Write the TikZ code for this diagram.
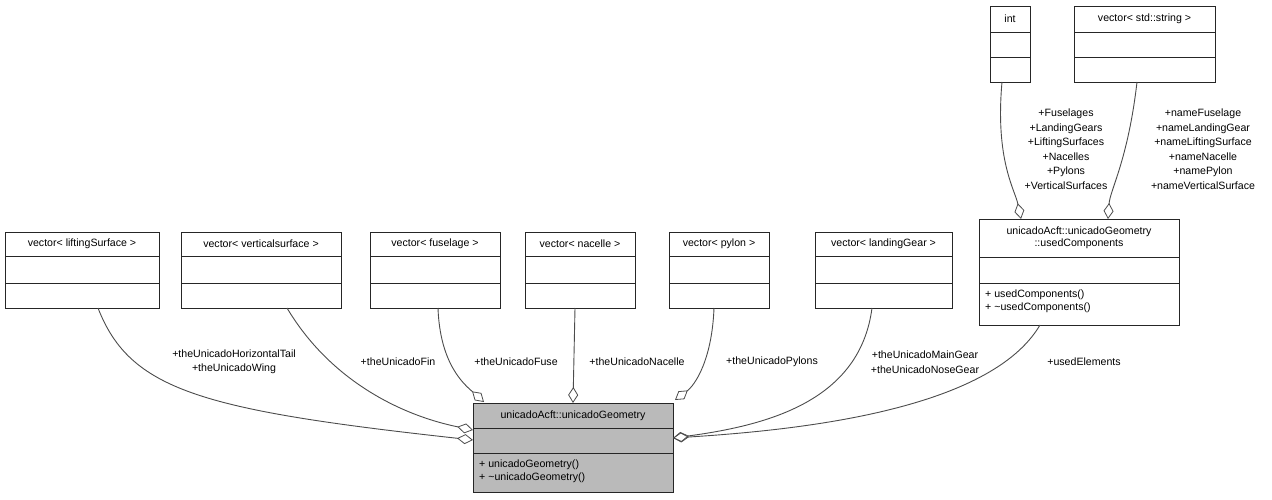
\documentclass[tikz,border=0pt]{standalone}
\usepackage{fontspec}
\setmainfont{Liberation Sans}
\usetikzlibrary{arrows.meta}
\begin{document}
\begin{tikzpicture}[x=1pt,y=-1pt,
  box/.style={draw=black!85,line width=0.9pt,fill=white,anchor=north west,inner sep=0pt},
  txt/.style={font=\fontsize{10.6}{12.5}\selectfont,inner sep=0pt},
  lbl/.style={font=\fontsize{10.6}{14.5}\selectfont,inner sep=0pt,align=center},
  edge/.style={draw=black!70,line width=0.9pt,-{Diamond[open,length=16pt,width=10pt,line width=0.8pt]}}]
\useasboundingbox (0,0) rectangle (1272,500);
\newcommand\umlbox[8]{%
  \node[box,minimum width=#4-#2,minimum height=#7-#3] (#1) at (#2,#3) {};
  \draw[draw=black!85,line width=0.9pt] (#2,#5) -- (#4,#5) (#2,#6) -- (#4,#6);
  \node[txt,align=center] (#1t) at ({(#2+#4)/2},{(#3+#5)/2}) {#8};}
\umlbox{ls}{5}{232}{159}{256}{283}{308}{vector< liftingSurface >}
\umlbox{vs}{181}{232}{341}{256}{283}{308}{vector< verticalsurface >}
\umlbox{fu}{370}{232}{500}{256}{283}{308}{vector< fuselage >}
\umlbox{na}{525}{232}{635}{256}{283}{308}{vector< nacelle >}
\umlbox{py}{669}{232}{769}{256}{283}{308}{vector< pylon >}
\umlbox{lg}{815}{232}{952}{256}{283}{308}{vector< landingGear >}
\umlbox{in}{990}{6}{1030}{32}{57}{82}{int}
\umlbox{st}{1074}{6}{1215}{32}{57}{82}{vector< std::string >}
\umlbox{uc}{979}{219}{1179}{257}{283}{325}{unicadoAcft::unicadoGeometry\\::usedComponents}
\node[txt,anchor=north west,align=left] (ucm) at (985,290) {+ usedComponents()\\+ \textasciitilde usedComponents()};
\node[box,fill=black!27,minimum width=200,minimum height=89] (mg) at (473,403) {};
\draw[draw=black!85,line width=0.9pt] (473,428) -- (673,428) (473,453) -- (673,453);
\node[txt] (mgt) at (573,415.5) {unicadoAcft::unicadoGeometry};
\node[txt,anchor=north west,align=left] (mgm) at (479,460) {+ unicadoGeometry()\\+ \textasciitilde unicadoGeometry()};
\coordinate (mL1) at (473,430);
\coordinate (mL2) at (473,440);
\coordinate (mR) at (673,438);
\coordinate (mT1) at (484,402);
\coordinate (mT2) at (573,403);
\coordinate (mT3) at (675,400);
\coordinate (ucT1) at (1021,219);
\coordinate (ucT2) at (1108,219);
\path[edge] (98,308) .. controls (130,390) and (200,410) .. (mL2);
\path[edge] (287,308) .. controls (330,380) and (400,415) .. (mL1);
\path[edge] (438,308) .. controls (440,365) and (465,385) .. (mT1);
\path[edge] (575,308) -- (mT2);
\path[edge] (714,308) .. controls (712,360) and (695,385) .. (mT3);
\path[edge] (872,308) .. controls (860,400) and (770,425) .. (mR);
\path[edge] (1040,325) .. controls (990,410) and (800,430) .. (mR);
\path[edge] (1002,82) .. controls (995,160) and (1015,190) .. (ucT1);
\path[edge] (1137,82) .. controls (1128,160) and (1110,190) .. (ucT2);
\node[lbl] (l1) at (234,362) {+theUnicadoHorizontalTail\\+theUnicadoWing};
\node[lbl] (l2) at (398,362) {+theUnicadoFin};
\node[lbl] (l3) at (516,362) {+theUnicadoFuse};
\node[lbl] (l4) at (637,362) {+theUnicadoNacelle};
\node[lbl] (l5) at (772,362) {+theUnicadoPylons};
\node[lbl] (l6) at (925,362) {+theUnicadoMainGear\\+theUnicadoNoseGear};
\node[lbl] (l7) at (1084,362) {+usedElements};
\node[lbl] (l8) at (1066,149) {+Fuselages\\+LandingGears\\+LiftingSurfaces\\+Nacelles\\+Pylons\\+VerticalSurfaces};
\node[lbl] (l9) at (1203,149) {+nameFuselage\\+nameLandingGear\\+nameLiftingSurface\\+nameNacelle\\+namePylon\\+nameVerticalSurface};
\end{tikzpicture}
\end{document}
